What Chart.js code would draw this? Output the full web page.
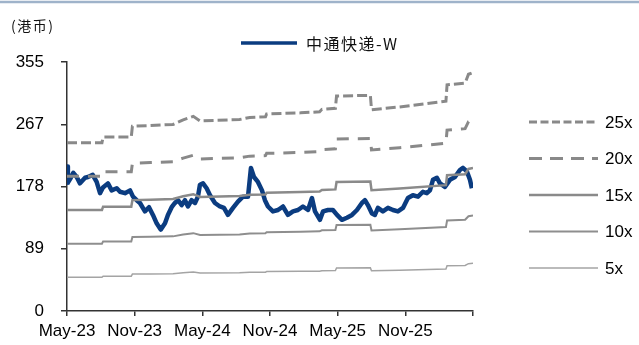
<!DOCTYPE html>
<html>
<head>
<meta charset="utf-8">
<script src="https://cdn.jsdelivr.net/npm/chart.js@4.4.1/dist/chart.umd.min.js"></script>
<style>
  body { margin: 0; background: #fff; }
  #wrap { position: relative; width: 639px; height: 345px; overflow: hidden; }
  #chart, #overlay { position: absolute; left: 0; top: 0; }
</style>
</head>
<body>
<div id="wrap">
  <canvas id="chart" width="639" height="345"></canvas>
  <svg id="overlay" width="639" height="345" xmlns="http://www.w3.org/2000/svg"></svg>
</div>
<script>
// x values are months since May-23
const xTickLabels = ['May-23', 'Nov-23', 'May-24', 'Nov-24', 'May-25', 'Nov-25', '']
const yTickValues = [0, 88.75, 177.5, 266.25, 355]
const yTickLabels = ['0', '89', '178', '267', '355']

const priceName = '中通快递-W'
const priceMonths = [0, 0.08, 0.27, 0.56, 0.86, 1.15, 1.60, 1.86, 2.28, 2.63, 2.93, 3.19, 3.63, 3.96, 4.41, 4.70,
  5.14, 5.59, 5.85, 6.18, 6.47, 6.91, 7.27, 7.62, 7.95, 8.31, 8.69, 8.95, 9.28, 9.57, 9.84, 10.17,
  10.46, 10.73, 11.05, 11.35, 11.61, 11.79, 12.06, 12.38, 12.68, 13.12, 13.56, 13.92, 14.27, 14.72, 15.16, 15.60,
  16.05, 16.31, 16.58, 16.93, 17.29, 17.55, 17.82, 18.26, 18.71, 19.15, 19.59, 20.04, 20.48, 20.92,
  21.37, 21.72, 21.99, 22.43, 22.70, 23.14, 23.58, 23.94, 24.38, 24.82, 25.27, 25.71, 26.15, 26.42,
  26.68, 27.04, 27.30, 27.57, 28.01, 28.46, 28.90, 29.34, 29.79, 30.23, 30.67, 31.12, 31.56, 31.91,
  32.18, 32.45, 32.80, 33.07, 33.51, 33.95, 34.40, 34.84, 35.11, 35.46, 35.73, 35.90]
const priceValues = [206, 183, 188, 197, 191, 182, 190, 191, 194, 184, 168, 176, 182, 172, 175, 170,
  168, 172, 163, 158, 154, 142, 148, 137, 125, 116, 125, 137, 148, 154, 158, 151,
  158, 149, 158, 154, 163, 180, 182, 175, 165, 154, 149, 147, 137, 147, 156, 163,
  163, 204, 191, 184, 172, 158, 149, 142, 144, 149, 137, 142, 144, 149,
  144, 161, 142, 130, 142, 144, 144, 137, 130, 133, 137, 144, 154, 158,
  151, 139, 137, 147, 142, 147, 144, 142, 147, 161, 165, 163, 170, 168,
  172, 187, 190, 182, 177, 187, 191, 201, 204, 199, 187, 175]

// PE bands (step lines)
const bandMonths = [0, 3.1, 3.2, 5.7, 5.8, 7.4, 9.4, 10.3, 11.2, 11.8, 15.3, 16.2, 17.6, 17.7, 20.7, 22.4,
  22.6, 23.8, 23.9, 26.9, 27.0, 29.5, 33.6, 33.7, 35.3, 35.6, 36]
const band25x = [240, 240, 248, 248, 263.5, 264.5, 266, 272.5, 277.5, 271, 273, 276, 277, 281, 282.5, 284,
  287.5, 289, 306.5, 307.5, 287, 291, 299, 322.5, 325, 337.5, 340]
const band20x = [192, 192, 198.4, 198.4, 210.8, 211.6, 212.8, 218, 222, 216.8, 218.4, 220.8, 221.6, 224.8, 226, 227.2,
  230, 231.2, 245.2, 246, 229.6, 232.8, 239.2, 258, 260, 270, 272]
const band15x = [144, 144, 148.8, 148.8, 158.1, 158.7, 159.6, 163.5, 166.5, 162.6, 163.8, 165.6, 166.2, 168.6, 169.5, 170.4,
  172.5, 173.4, 183.9, 184.5, 172.2, 174.6, 179.4, 193.5, 195, 202.5, 204]
const band10x = [96, 96, 99.2, 99.2, 105.4, 105.8, 106.4, 109, 111, 108.4, 109.2, 110.4, 110.8, 112.4, 113, 113.6,
  115, 115.6, 122.6, 123, 114.8, 116.4, 119.6, 129, 130, 135, 136]
const band5x = [48, 48, 49.6, 49.6, 52.7, 52.9, 53.2, 54.5, 55.5, 54.2, 54.6, 55.2, 55.4, 56.2, 56.5, 56.8,
  57.5, 57.8, 61.3, 61.5, 57.4, 58.2, 59.8, 64.5, 65, 67.5, 68]
const bandLabels = ['25x', '20x', '15x', '10x', '5x']

const BLUE = '#0b3c80'
const bandStyles = [
  { color: '#898989', width: 3, dash: [10, 4] },
  { color: '#898989', width: 3, dash: [12, 9] },
  { color: '#8a8a8a', width: 2.5, dash: [] },
  { color: '#8e8e8e', width: 2, dash: [] },
  { color: '#a4a4a4', width: 1.5, dash: [] }
]

function toPoints(xs, ys) {
  return xs.map((x, i) => ({ x: x, y: ys[i] }))
}

const bandValues = [band25x, band20x, band15x, band10x, band5x]
const datasets = bandValues.map((vals, i) => ({
  label: bandLabels[i],
  data: toPoints(bandMonths, vals),
  borderColor: bandStyles[i].color,
  borderWidth: bandStyles[i].width,
  borderDash: bandStyles[i].dash,
  order: i + 1
}))
datasets.push({
  label: priceName,
  data: toPoints(priceMonths, priceValues),
  borderColor: BLUE,
  borderWidth: 4.5,
  borderJoinStyle: 'round',
  order: 10
})

Chart.defaults.font.family = '"Liberation Sans", Arial, sans-serif'
Chart.defaults.color = '#000'

const axisColor = '#333'
new Chart(document.getElementById('chart'), {
  type: 'line',
  data: { datasets: datasets },
  options: {
    responsive: false,
    animation: false,
    layout: { padding: { top: 62, right: 166, left: 0, bottom: 0 } },
    elements: { point: { radius: 0 }, line: { tension: 0 } },
    plugins: { legend: { display: false }, tooltip: { enabled: false } },
    scales: {
      x: {
        type: 'linear',
        min: 0,
        max: 36,
        afterBuildTicks: (scale) => {
          scale.ticks = xTickLabels.map((_, i) => ({ value: i * 6 }))
        },
        afterFit: (scale) => { scale.height = 34 },
        ticks: {
          autoSkip: false,
          maxRotation: 0,
          padding: 5,
          font: { size: 17 },
          callback: (v, i) => xTickLabels[i]
        },
        grid: { drawOnChartArea: false, drawTicks: true, tickLength: 5, color: axisColor, lineWidth: 1.5 },
        border: { color: axisColor, width: 1.5 }
      },
      y: {
        min: 0,
        max: 355,
        afterBuildTicks: (scale) => {
          scale.ticks = yTickValues.map(v => ({ value: v }))
        },
        afterFit: (scale) => { scale.width = 67 },
        ticks: {
          padding: 17,
          font: { size: 17 },
          callback: (v, i) => yTickLabels[i]
        },
        grid: { drawOnChartArea: false, drawTicks: true, tickLength: 6, color: axisColor, lineWidth: 1.5 },
        border: { color: axisColor, width: 1.5 }
      }
    }
  }
})

// title, unit and legends as svg text
const svg = document.getElementById('overlay')
function add(tag, attrs, text) {
  const el = document.createElementNS('http://www.w3.org/2000/svg', tag)
  for (const k in attrs) el.setAttribute(k, attrs[k])
  if (text) el.textContent = text
  svg.appendChild(el)
  return el
}

add('line', { x1: 0, y1: 2, x2: 639, y2: 2, stroke: '#9fb3ca', 'stroke-width': 2.5 })
add('text', { x: 11, y: 25, 'font-size': 14, 'letter-spacing': 1.5, 'dominant-baseline': 'central',
  'font-family': '"Noto Sans CJK SC", sans-serif', fill: '#111' }, '(港币)')

add('line', { x1: 241, y1: 43, x2: 297, y2: 43, stroke: BLUE, 'stroke-width': 3.5 })
add('text', { x: 306, y: 43, 'font-size': 16, 'letter-spacing': 1.5, 'dominant-baseline': 'central',
  'font-family': '"Noto Sans CJK SC", sans-serif', fill: '#111' }, priceName)

const legendRows = [122, 158.5, 195, 231.5, 268]
bandLabels.forEach((lab, i) => {
  const y = legendRows[i]
  const st = bandStyles[i]
  add('line', { x1: 529, y1: y, x2: 598, y2: y, stroke: st.color, 'stroke-width': st.width,
    'stroke-dasharray': st.dash.length ? (i === 0 ? '8,3.5' : '13,8') : 'none' })
  add('text', { x: 605, y: y, 'font-size': 17, 'dominant-baseline': 'central',
    'font-family': '"Liberation Sans", Arial, sans-serif', fill: '#000' }, lab)
})
</script>
</body>
</html>
